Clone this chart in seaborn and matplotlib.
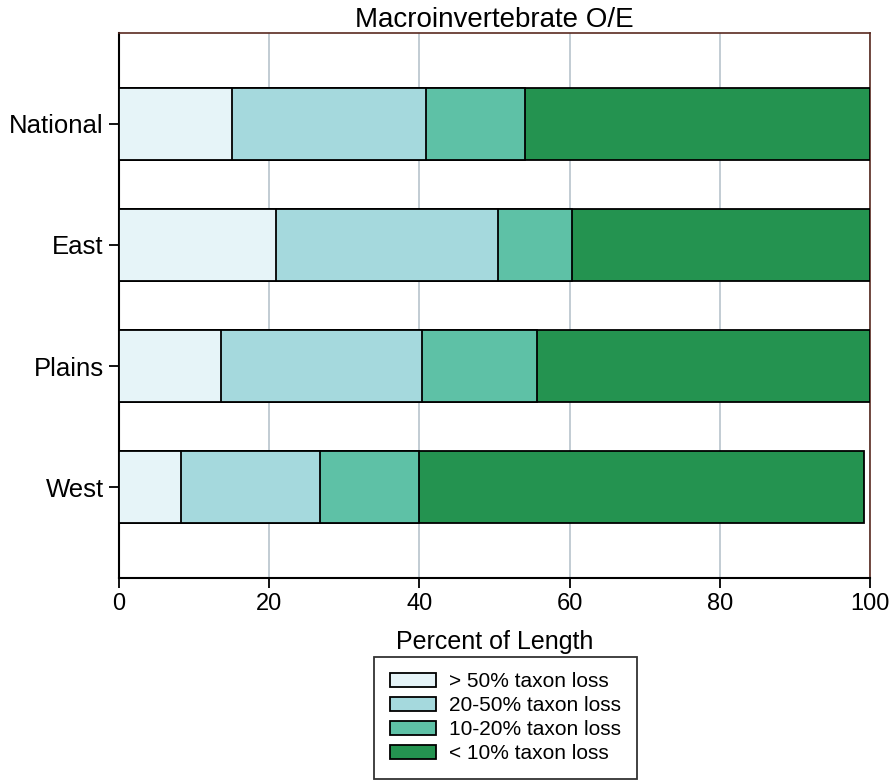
import matplotlib
matplotlib.use("Agg")
import matplotlib.pyplot as plt
import numpy as np
import pandas as pd
import seaborn as sns

regions = ["National", "East", "Plains", "West"]
classes = ["> 50% taxon loss", "20-50% taxon loss", "10-20% taxon loss", "< 10% taxon loss"]
gt50 = [15.0, 20.9, 13.6, 8.3]
p20_50 = [25.9, 29.5, 26.8, 18.4]
p10_20 = [13.1, 9.9, 15.3, 13.3]
lt10 = [46.0, 39.7, 44.3, 59.2]
colors = ["#E6F4F8", "#A5D9DD", "#5EC1A6", "#249350"]

sns.set_theme(style="white")
plt.rcParams["font.family"] = ["Liberation Sans", "DejaVu Sans"]
plt.rcParams["text.color"] = "black"
plt.rcParams["axes.labelcolor"] = "black"
plt.rcParams["xtick.color"] = "black"
plt.rcParams["ytick.color"] = "black"

df = pd.DataFrame({"region": regions, classes[0]: gt50, classes[1]: p20_50,
                   classes[2]: p10_20, classes[3]: lt10})
cum = df[classes].cumsum(axis=1)

fig = plt.figure(figsize=(8.91, 7.81), dpi=100)
ax = fig.add_axes([0.1336, 0.26, 0.843, 0.6977])

# draw cumulative layers from the widest down so they look stacked
for cls, col in reversed(list(zip(classes, colors))):
    sns.barplot(x=cum[cls], y=df["region"], color=col, orient="h", width=0.59,
                saturation=1, edgecolor="black", linewidth=1.3, ax=ax,
                label=cls, zorder=3)

handles, labels = ax.get_legend_handles_labels()
if ax.get_legend() is not None:
    ax.get_legend().remove()

ax.set_xlim(0, 100)
ax.set_ylim(3.75, -0.75)
ax.set_xticks([0, 20, 40, 60, 80, 100])
ax.xaxis.grid(True, color="#B8C4CC", linewidth=1.2, zorder=0)
ax.set_axisbelow(True)
ax.tick_params(axis="both", length=7, width=1.3, color="black",
               bottom=True, left=True, pad=4)
ax.tick_params(axis="x", labelsize=17)
ax.tick_params(axis="y", labelsize=18.5)
ax.set_ylabel("")
ax.set_xlabel("Percent of Length", fontsize=18, labelpad=11)
ax.set_title("Macroinvertebrate O/E", fontsize=20, pad=4)
for side in ["left", "bottom"]:
    ax.spines[side].set_color("black")
    ax.spines[side].set_linewidth(1.5)
for side in ["top", "right"]:
    ax.spines[side].set_color("#5A2A20")
    ax.spines[side].set_linewidth(1.2)

order = [labels.index(c) for c in classes]
leg = fig.legend([handles[i] for i in order], [labels[i] for i in order],
                 loc="upper center", bbox_to_anchor=(0.567, 0.159), ncol=1,
                 fontsize=15, frameon=True, fancybox=False, edgecolor="black",
                 handlelength=2.25, handleheight=0.7, labelspacing=0.24,
                 borderpad=0.75, handletextpad=0.6, borderaxespad=0)
leg.get_frame().set_linewidth(1.3)

fig.savefig("out.png", dpi=100)
